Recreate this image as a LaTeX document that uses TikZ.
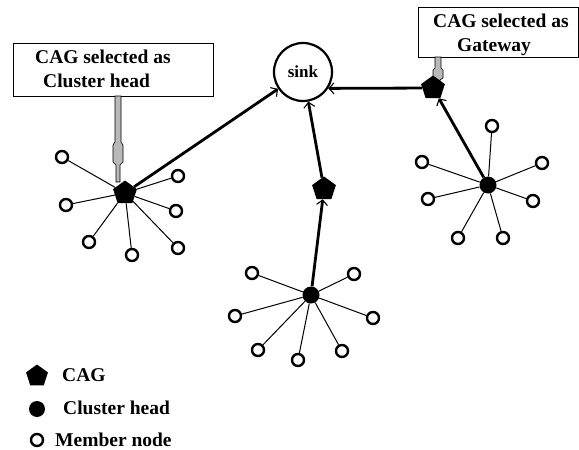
\documentclass[tikz,border=0pt]{standalone}
\usepackage{fontspec}
\setmainfont{Liberation Serif}
\usetikzlibrary{shapes.geometric,arrows.meta}
\begin{document}
\begin{tikzpicture}[x=1pt,y=-1pt,
 member/.style={circle,draw,line width=2.4pt,inner sep=0pt,minimum size=12pt,fill=white},
 chead/.style={circle,fill,inner sep=0pt,minimum size=17pt},
 cag/.style={regular polygon,regular polygon sides=5,fill,inner sep=0pt,minimum size=25pt},
 link/.style={line width=1pt},
 route/.style={line width=2.8pt,-{Straight Barb[length=5pt,width=11pt,line width=1.1pt]}},
 lbl/.style={font=\fontsize{19.5}{23}\selectfont\bfseries,inner sep=0pt,anchor=base west},
 callout/.style={draw,line width=1pt,rectangle,anchor=north west,inner sep=0pt},
 pointer/.style={fill=gray!55,draw=black,line width=0.6pt}
]
\useasboundingbox (0,0) rectangle (579,450);

% callout boxes
\node[callout,minimum width=200pt,minimum height=53pt] (box1) at (13,43) {};
\node[lbl] (t1a) at (35,63.5) {CAG selected as};
\node[lbl] (t1b) at (43,87.5) {Cluster head};
\node[callout,minimum width=160pt,minimum height=50pt] (box2) at (418,7) {};
\node[lbl] (t2a) at (433,27.5) {CAG selected as};
\node[lbl] (t2b) at (457,51) {Gateway};

% sink
\node[circle,draw,line width=2.2pt,minimum size=58pt,inner sep=0pt,
      font=\fontsize{17}{20}\selectfont\bfseries] (sink) at (303,72) {sink};

% pointers
\path[pointer] (115,96) -- (121,96) -- (121,142) -- (123,145) -- (123,162) -- (120,165)
  -- (120,182) -- (116,182) -- (116,165) -- (113,162) -- (113,145) -- (115,142) -- cycle;
\path[pointer] (435,57) -- (441,57) -- (441,68) -- (443,70) -- (443,78) -- (440,80)
  -- (440,86) -- (436,86) -- (436,80) -- (433,78) -- (433,70) -- (435,68) -- cycle;

% CAG nodes and cluster heads
\node[cag] (cagL) at (125,193) {};
\node[cag] (cagM) at (324,189) {};
\node[cag] (cagG) at (433,88) {};
\node[chead] (chM) at (311,295) {};
\node[chead] (chR) at (488,185) {};

% left cluster members
\foreach \n/\p in {1/{(62,157)},2/{(178,176)},3/{(66,205)},4/{(176,211)},5/{(89,242)},6/{(132,255)},7/{(178,248)}}{
  \node[member] (mL\n) at \p {};
  \draw[link] (cagL) -- (mL\n);
}
% middle cluster members
\foreach \n/\p in {1/{(252,273)},2/{(354,274)},3/{(235,316)},4/{(373,318)},5/{(258,350)},6/{(298,360)},7/{(342,351)}}{
  \node[member] (mM\n) at \p {};
  \draw[link] (chM) -- (mM\n);
}
% right cluster members
\foreach \n/\p in {1/{(492,126)},2/{(422,162)},3/{(542,163)},4/{(428,199)},5/{(533,201)},6/{(458,238)},7/{(503,238)}}{
  \node[member] (mR\n) at \p {};
  \draw[link] (chR) -- (mR\n);
}

% routes
\draw[route] (cagL) -- (sink);
\draw[route] (cagM) -- (sink);
\draw[route] (cagG) -- (sink.-33);
\draw[route] (chM) -- (cagM);
\draw[route] (chR) -- (cagG);

% legend
\node[cag,minimum size=23pt] (lg1) at (37,376) {};
\node[lbl] (lt1) at (62,381.5) {CAG};
\node[chead,minimum size=16pt] (lg2) at (37,409) {};
\node[lbl] (lt2) at (63,414.5) {Cluster head};
\node[member] (lg3) at (37,440) {};
\node[lbl] (lt3) at (55,446.5) {Member node};
\end{tikzpicture}
\end{document}
